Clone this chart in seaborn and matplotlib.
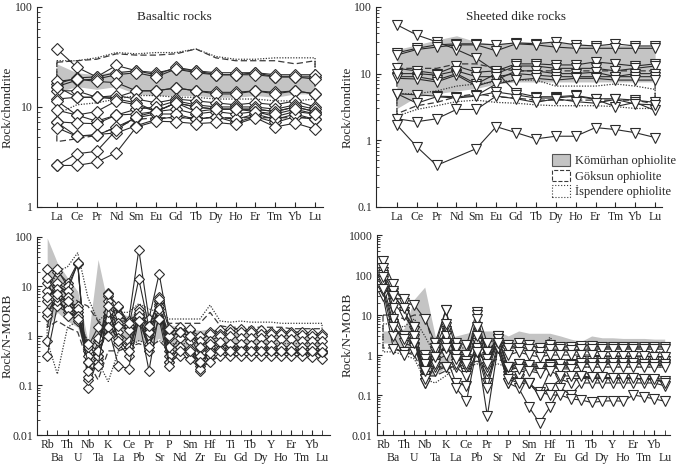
import numpy as np
import pandas as pd
import matplotlib
matplotlib.use("Agg")
import matplotlib.pyplot as plt
import seaborn as sns
from matplotlib.patches import Patch
from matplotlib.ticker import LogLocator, NullFormatter

nan = np.nan

# -----------------------------
# Element order
# -----------------------------
ree = ["La", "Ce", "Pr", "Nd", "Sm", "Eu", "Gd", "Tb", "Dy", "Ho", "Er", "Tm", "Yb", "Lu"]
trace = ["Rb", "Ba", "Th", "U", "Nb", "Ta", "K", "La", "Ce", "Pb", "Pr", "Sr", "P", "Nd",
         "Sm", "Zr", "Hf", "Eu", "Ti", "Gd", "Tb", "Dy", "Y", "Ho", "Er", "Tm", "Yb", "Lu"]

# -----------------------------
# Basaltic rocks, chondrite-normalised REE
# -----------------------------
basalt_ree = [
    [38, 25, 20, 22, 23, 22, 24, 23, 21, 21, 22, 20, 20, 20],
    [17, 19.5, 20, 26, 23, 21, 25, 23, 22, 22, 22, 21, 21, 21],
    [16, 18.5, 19, 21, 22, 20, 24, 22, 21, 21, 21, 20, 20, 19],
    [18, 19, 18, 17.5, 14.5, 14.5, 15.5, 14.5, 14, 14, 14.5, 14, 14.5, 13.5],
    [14.5, 14.5, 12.5, 12.5, 14.5, 14.5, 15.5, 14.5, 13.5, 13.5, 14.5, 13.5, 14.5, 13.5],
    [16, 12.5, 12.5, 13, 12, 11, 12, 11.5, 11, 10.5, 11, 10.5, 11.5, 10],
    [12, 12.5, 12.5, 12, 11, 9, 11, 10, 9.5, 9.5, 9.5, 9, 10, 9],
    [11.5, 8.3, 7.2, 8.3, 9.5, 10, 11.5, 10.5, 10, 10, 10, 9.5, 10.5, 9.5],
    [9.3, 8.3, 9, 11.5, 10.5, 9, 11, 10, 9.5, 9.5, 9.5, 9, 10, 9],
    [7.1, 6.9, 6.8, 8.3, 8.5, 9, 9.5, 8.5, 9, 8.5, 9, 8, 9, 8.5],
    [7, 5.1, 5.3, 5.5, 6.5, 7.5, 8, 7.5, 8, 7, 8, 7, 8, 7.5],
    [6.2, 5.1, 5.2, 6.3, 7.8, 8.5, 8.5, 7.5, 8, 7.5, 8.5, 7.5, 8.5, 7.5],
    [2.6, 3.4, 3.6, 5.9, 8, 9, 11, 9, 9.5, 9.5, 9, 8.5, 9.5, 8.5],
    [2.6, 2.6, 2.8, 3.5, 6.3, 7.2, 7.1, 6.8, 7, 6.7, 7.8, 6.3, 6.9, 6.0],
]
komurhan_basalt_ree_hi = [27, 22, 21, 23, 22, 22, 24, 23, 22, 21, 22, 21, 21, 21]
komurhan_basalt_ree_lo = [14, 16, 15, 16, 13.5, 13, 13, 13, 12.5, 12.5, 13, 12.5, 13.5, 13.5]
goksun_basalt_ree_hi = [28, 29, 30, 34, 33, 33, 34, 38, 31, 29, 29, 29, 27, 29]
goksun_basalt_ree_lo = [4.5, 4.8, 5.2, 6.3, 7.5, 7.8, 7.8, 7.8, 7.8, 7.8, 7.8, 7.8, 7.8, 7.8]
ispendere_basalt_ree_hi = [29, 29, 31, 35, 34, 35, 35, 38, 32, 30, 30, 31, 31, 31]
ispendere_basalt_ree_lo = [8.5, 10.5, 11, 12, 13, 13, 12.5, 12.5, 12, 12, 12, 11.5, 11.5, 12]

# -----------------------------
# Sheeted dike rocks, chondrite-normalised REE
# -----------------------------
dike_ree = [
    [54, 38, 30, 23, 17, 10.7, 5.2, 4.5, 4.5, 4.7, 4.2, 4.2, 4.0, 3.7],
    [20.5, 24, 27, 28, 28, 27, 29, 28, 30, 27, 26, 28, 26, 26],
    [19, 23, 25, 27, 27, 22, 28, 27, 25, 24, 24, 24, 24, 24],
    [12, 11, 10, 13, 10.5, 11, 14, 14, 13.5, 13.5, 15, 14, 13, 14],
    [9, 9, 8, 10, 7, 10, 13, 13, 12, 12, 12, 11, 12, 13],
    [8.5, 8.3, 7.5, 9.5, 6.5, 8, 11, 11, 10, 10, 10.5, 9, 10, 10],
    [10, 10, 9.5, 11, 9, 9, 10, 9.5, 9, 9, 9, 9, 9, 9],
    [5, 4.8, 4.6, 4.5, 4.7, 7, 8, 8.5, 8, 8.5, 8.5, 8, 8, 8],
    [5, 3.6, 4.5, 4.3, 4.6, 5.3, 4.8, 4.3, 4.3, 4.6, 4.1, 3.2, 3.7, 2.8],
    [2.1, 1.9, 2.1, 2.9, 2.9, 4.6, 4.2, 3.7, 4.2, 3.8, 3.6, 4.1, 3.5, 3.4],
    [1.7, 0.8, 0.42, nan, 0.75, 1.6, 1.3, 1.05, 1.15, 1.15, 1.55, 1.45, 1.3, 1.1],
]
komurhan_dike_ree_hi = [23, 27, 32, 37, 30, 28, 30, 30, 30, 28, 27, 27, 26, 26]
komurhan_dike_ree_lo = [3, 4.5, 5, 5.5, 6, 7, 7.5, 7.5, 7.5, 7.5, 7.5, 7.5, 7.5, 7.5]
goksun_dike_ree_hi = [12, 12, 12, 14, 14, 12, 11, 11, 11, 11, 11, 11, 11, 11]
goksun_dike_ree_lo = [2.5, 3.3, 3.7, 4.5, 5, 4.5, 4.3, 4, 4, 4, 4, 4, 4, 3.5]
ispendere_dike_ree_hi = [5, 5, 5.5, 6.5, 7, 7.5, 8, 8, 6.5, 6.5, 6.5, 7, 6.5, 5.8]
ispendere_dike_ree_lo = [2.3, 2.9, 3.3, 3.8, 4, 3.7, 3.6, 3.4, 3.3, 3.3, 3.3, 3.2, 3.0, 3.0]

# -----------------------------
# Basaltic rocks, N-MORB-normalised trace elements
# -----------------------------
basalt_trace = [
    [22, 20, 12, 30, 0.09, 0.35, 7.5, 2.5, 2.0, 55, 2.2, 18, 1.3, 1.5, 1.3, 1.0, 1.2, 1.3, 1.4, 1.4, 1.3, 1.3, 1.2, 1.2, 1.2, 1.2, 1.15, 1.1],
    [8, 22, 10, 28, 0.13, 0.4, 6.5, 1.8, 1.5, 14, 1.5, 5, 0.9, 1.2, 1.0, 0.8, 1.1, 1.1, 1.2, 1.2, 1.2, 1.1, 1.1, 1.1, 1.1, 1.05, 1.0, 1.0],
    [0.8, 10, 8, 30, 0.15, 0.3, 2.5, 3.8, 1.6, 3.5, 1.4, 6, 0.5, 0.9, 0.8, 0.25, 0.6, 0.7, 0.6, 0.6, 0.6, 0.6, 0.55, 0.55, 0.55, 0.5, 0.5, 0.5],
    [0.4, 4, 3, 2.5, 0.3, 0.5, 5, 1.2, 0.8, 2.5, 1.0, 4.5, 0.3, 0.6, 0.5, 0.2, 0.4, 0.55, 0.5, 0.5, 0.5, 0.5, 0.48, 0.47, 0.47, 0.45, 0.45, 0.45],
    [2.5, 8, 5, 4, 0.2, 0.8, 2.2, 0.7, 0.4, 2.8, 0.5, 5, 0.4, 0.5, 0.45, 0.3, 0.4, 0.5, 0.45, 0.5, 0.5, 0.5, 0.5, 0.5, 0.5, 0.5, 0.5, 0.5],
    [5, 12, 6, 3, 0.5, 0.9, 3, 0.9, 0.6, 2.5, 0.7, 4, 0.6, 0.6, 0.55, 0.35, 0.5, 0.55, 0.55, 0.55, 0.55, 0.55, 0.55, 0.55, 0.55, 0.5, 0.5, 0.5],
    [6, 9, 4, 3.5, 0.4, 0.4, 1.5, 0.25, 0.22, 2.2, 0.2, 3, 0.3, 0.4, 0.35, 0.22, 0.3, 0.4, 0.4, 0.4, 0.4, 0.4, 0.4, 0.4, 0.4, 0.4, 0.38, 0.35],
    [12, 5, 3.5, 2, 0.6, 1.5, 1.0, 1.6, 1.3, 3, 1.2, 3.5, 1.0, 1.2, 1.4, 0.6, 0.8, 1.0, 1.0, 0.9, 0.9, 0.9, 0.85, 0.85, 0.85, 0.8, 0.8, 0.8],
    [3, 6, 5, 2.5, 0.7, 0.5, 7, 4, 1.8, 2.5, 1.6, 5.5, 1.4, 1.2, 1.0, 0.4, 0.7, 0.75, 0.7, 0.7, 0.65, 0.65, 0.65, 0.6, 0.6, 0.6, 0.6, 0.6],
    [15, 7, 2.5, 2.2, 0.3, 0.25, 4, 0.8, 0.5, 2, 0.6, 2.2, 0.25, 0.5, 0.5, 0.3, 0.45, 0.5, 0.5, 0.5, 0.5, 0.5, 0.5, 0.5, 0.5, 0.5, 0.5, 0.48],
]
komurhan_basalt_trace_hi = [95, 30, 15, 8, 0.8, 35, 4, 3, 2.5, 3.5, 3, 2, 1.7, 1.5, 1.4, 1.3, 1.4, 1.3,
                            1.2, 1.2, 1.2, 1.2, 1.2, 1.1, 1.1, 1.1, 1.1, 1.1]
komurhan_basalt_trace_lo = [1.5, 3, 2, 1.5, 0.3, 1.0, 1.0, 0.8, 0.7, 0.8, 0.7, 0.9, 0.5, 0.5, 0.5, 0.5, 0.5, 0.6,
                            0.6, 0.6, 0.6, 0.6, 0.6, 0.6, 0.6, 0.6, 0.6, 0.6]
goksun_basalt_trace_hi = [1.5, 10, 8, 5, 4, 2, 1.5, 2, 2, 3, 2, 2.5, 1.8, 1.8, 1.8, 1.8, 3, 1.6,
                          1.5, 1.5, 1.5, 1.5, 1.5, 1.5, 1.4, 1.4, 1.4, 1.4]
goksun_basalt_trace_lo = [1.5, 2, 1.5, 1.2, 0.3, 0.13, 0.5, 0.5, 0.6, 0.7, 0.6, 0.8, 0.5, 0.5, 0.5, 0.5, 0.5, 0.55,
                          0.55, 0.55, 0.55, 0.55, 0.55, 0.55, 0.55, 0.55, 0.55, 0.55]
ispendere_basalt_trace_hi = [7, 20, 25, 48, 6, 2, 3, 3, 3, 4.5, 3.5, 3, 2.2, 2.2, 2.2, 2.2, 4.2, 2.0,
                             1.9, 2.0, 1.9, 1.9, 1.9, 1.8, 1.8, 1.8, 1.8, 1.8]
ispendere_basalt_trace_lo = [0.8, 0.17, 1.5, 2, 0.8, 0.3, 0.12, 0.5, 0.6, 0.8, 0.7, 0.8, 0.7, 0.7, 0.7, 0.7, 0.8, 0.7,
                             0.7, 0.7, 0.7, 0.7, 0.7, 0.7, 0.7, 0.7, 0.7, 0.7]

# -----------------------------
# Sheeted dike rocks, N-MORB-normalised trace elements
# -----------------------------
dike_trace = [
    [230, 60, 20, 18, 8, 2, 13, 2, 1.8, 12, 2, 2.5, 1.8, 2, 1.8, 1.5, 1.8, 1.6, 1.6, 1.7, 1.7, 1.6, 1.6, 1.6, 1.6, 1.6, 1.6, 1.6],
    [120, 35, 12, 5, 0.25, 1.5, 13, 1.3, 0.8, 10, 0.9, 3, 1.5, 1.5, 1.4, 1.2, 1.4, 1.4, 1.3, 1.4, 1.4, 1.4, 1.4, 1.4, 1.4, 1.4, 1.4, 1.4],
    [80, 20, 10, 4, 0.3, 1.2, 4, 0.9, 0.6, 8, 0.5, 2.5, 0.5, 0.6, 0.5, 0.45, 0.6, 0.5, 0.6, 0.7, 0.7, 0.7, 0.7, 0.7, 0.7, 0.7, 0.7, 0.7],
    [100, 15, 3, 2, 0.2, 0.5, 5, 0.7, 0.35, 2, 0.4, 2, 0.4, 0.5, 0.45, 0.4, 0.5, 0.5, 0.5, 0.6, 0.6, 0.6, 0.6, 0.6, 0.6, 0.6, 0.55, 0.55],
    [60, 6, 2, 1.6, 1.0, 0.7, 1.0, 0.2, 0.17, 1.5, 0.2, 1.8, 0.3, 0.25, 0.2, 0.1, 0.15, 0.25, 0.2, 0.28, 0.27, 0.26, 0.26, 0.27, 0.26, 0.25, 0.24, 0.22],
    [30, 1.4, 1.2, 1.5, 0.8, 0.4, 0.5, 0.15, 0.07, 1.5, 0.03, 1.5, 0.2, 0.15, 0.05, 0.02, 0.05, 0.15, 0.1, 0.2, 0.2, 0.2, 0.2, 0.2, 0.2, 0.2, 0.2, 0.17],
    [40, 3, 1.0, 1.2, 0.6, 0.5, 0.5, 0.5, 0.3, 1.2, 0.15, 1.5, 0.2, 0.3, 0.2, 0.12, 0.1, 0.1, 0.08, 0.075, 0.065, 0.07, 0.072, 0.07, 0.1, 0.09, 0.08, 0.07],
    [70, 40, 25, 5, 0.3, 2, 3, 1.5, 1.0, 5, 1.2, 2.5, 1.0, 1.2, 1.0, 0.9, 1.0, 1.0, 1.0, 1.0, 1.0, 0.95, 0.95, 0.95, 0.95, 0.95, 0.9, 0.9],
    [150, 8, 3, 2.5, 0.2, 0.6, 2, 0.6, 0.5, 1.5, 0.5, 3, 0.5, 0.6, 0.55, 0.5, 0.55, 0.6, 0.55, 0.65, 0.65, 0.65, 0.65, 0.65, 0.65, 0.6, 0.6, 0.6],
    [90, 30, 15, 3, 0.25, 1.5, 6, 1.0, 0.7, 3, 0.8, 2.5, 0.5, 0.45, 0.4, 0.35, 0.5, 0.45, 0.45, 0.5, 0.5, 0.5, 0.5, 0.5, 0.5, 0.5, 0.5, 0.5],
    [45, 5, 2.5, 2, 0.4, 0.9, 1.5, 0.8, 0.6, 1.2, 0.6, 2, 0.25, 0.2, 0.2, 0.1, 0.4, 0.3, 0.3, 0.3, 0.28, 0.28, 0.27, 0.27, 0.27, 0.25, 0.25, 0.2],
]
komurhan_dike_trace_hi = [4, 4, 4.5, 25, 50, 3, 2.5, 3, 3.5, 4, 4, 4, 3, 4, 3.5, 3.5, 3.5, 3,
                          2.5, 2.2, 3, 2.7, 2.7, 2.6, 2.6, 2.6, 2.5, 2.5]
komurhan_dike_trace_lo = [2, 2, 1.5, 1.5, 0.3, 0.3, 0.5, 1.2, 1.3, 1.5, 1.5, 1.8, 1.5, 1.5, 1.5, 1.5, 1.5, 1.5,
                          1.5, 1.5, 1.5, 1.5, 1.5, 1.5, 1.5, 1.5, 1.5, 1.5]
goksun_dike_trace_hi = [10, 10, 8, 10, 10, 1.2, 1.5, 2, 2, 2, 2, 2, 1.5, 1.8, 1.8, 1.5, 2.5, 1.5,
                        1.5, 1.5, 1.5, 1.5, 1.5, 1.5, 1.5, 1.5, 1.5, 1.5]
goksun_dike_trace_lo = [1.5, 1.5, 1.2, 1.0, 0.3, 0.3, 0.4, 0.6, 0.6, 0.7, 0.6, 0.8, 0.6, 0.6, 0.6, 0.6, 0.6, 0.6,
                        0.6, 0.6, 0.6, 0.6, 0.6, 0.6, 0.6, 0.6, 0.6, 0.6]
ispendere_dike_trace_hi = [6, 6, 5, 8, 3, 1.0, 1.2, 1.5, 1.5, 1.8, 1.6, 1.8, 1.3, 1.3, 1.3, 1.2, 2.8, 1.2,
                           1.2, 1.2, 1.2, 1.2, 1.2, 1.2, 1.2, 1.2, 1.2, 1.2]
ispendere_dike_trace_lo = [1.2, 1.2, 1.0, 0.8, 0.25, 0.2, 0.3, 0.5, 0.5, 0.6, 0.5, 0.6, 0.5, 0.5, 0.5, 0.5, 0.5, 0.5,
                           0.5, 0.5, 0.5, 0.5, 0.5, 0.5, 0.5, 0.5, 0.5, 0.5]

# -----------------------------
# Style
# -----------------------------
sns.set_style("ticks")
plt.rcParams["font.family"] = ["Liberation Serif", "DejaVu Serif"]
plt.rcParams["font.size"] = 8.5

LINE = "#2b2b2b"
FIELD_GRAY = "#c4c4c4"
FIELD_EDGE = "#3a3a3a"
DASH = (0, (5, 2.5))
DOT = (0, (1, 1.2))


def to_long(samples):
    rows = [(i, j, v) for i, s in enumerate(samples) for j, v in enumerate(s)]
    return pd.DataFrame(rows, columns=["sample", "pos", "value"]).dropna()


def draw_fields(ax, gray, dashed, dotted):
    x = np.arange(len(gray[0]))
    ax.fill_between(x, gray[1], gray[0], color=FIELD_GRAY, lw=0, zorder=1)
    for (hi, lo), ls in ((dashed, DASH), (dotted, DOT)):
        ax.fill(np.r_[x, x[::-1]], np.r_[hi, lo[::-1]], fill=False,
                ec=FIELD_EDGE, lw=0.9, ls=ls, zorder=2)


def draw_samples(ax, samples, marker, ms):
    sns.lineplot(data=to_long(samples), x="pos", y="value", units="sample",
                 estimator=None, sort=False, color=LINE, lw=0.8,
                 marker=marker, ms=ms, mfc="white", mec=LINE, mew=0.8,
                 legend=False, zorder=3, ax=ax)


def style_axes(ax, labels, two_rows, xlim, ylim, yticks, ylabel, label_x):
    ax.set_yscale("log")
    ax.set_ylim(ylim)
    ax.set_xlim(xlim)
    ax.set_yticks(yticks, labels=[f"{t:g}" for t in yticks])
    ax.yaxis.set_minor_locator(LogLocator(subs=np.arange(2, 10)))
    ax.yaxis.set_minor_formatter(NullFormatter())
    pos = np.arange(len(labels))
    if two_rows:
        ax.set_xticks(pos[::2], labels=labels[::2])
        ax.set_xticks(pos[1::2], labels=labels[1::2], minor=True)
        ax.tick_params(axis="x", which="minor", direction="in", length=3.5,
                       pad=12, labelsize=8.5)
    else:
        ax.set_xticks(pos, labels=labels)
    ax.tick_params(axis="both", which="major", direction="in", length=3.5,
                   pad=3, labelsize=8.5)
    ax.tick_params(axis="y", which="minor", direction="in", length=2)
    sns.despine(ax=ax)
    ax.set_xlabel("")
    ax.set_ylabel(ylabel, fontsize=9.5)
    ax.yaxis.set_label_coords(label_x, 0.5)


fig = plt.figure(figsize=(6.85, 4.65), dpi=100)
ax_tl = fig.add_axes([0.054, 0.555, 0.4175, 0.430])
ax_tr = fig.add_axes([0.549, 0.555, 0.4175, 0.430])
ax_bl = fig.add_axes([0.054, 0.0645, 0.428, 0.426])
ax_br = fig.add_axes([0.550, 0.0645, 0.428, 0.430])

# Basaltic REE
draw_fields(ax_tl, (komurhan_basalt_ree_hi, komurhan_basalt_ree_lo),
            (goksun_basalt_ree_hi, goksun_basalt_ree_lo),
            (ispendere_basalt_ree_hi, ispendere_basalt_ree_lo))
draw_samples(ax_tl, basalt_ree, "D", 6.0)
style_axes(ax_tl, ree, False, (-1.0, 13.4), (1, 100), [1, 10, 100],
           "Rock/chondrite", -0.082)
ax_tl.text(0.48, 0.95, "Basaltic rocks", transform=ax_tl.transAxes,
           ha="center", va="center", fontsize=9.5)

# Sheeted dike REE
draw_fields(ax_tr, (komurhan_dike_ree_hi, komurhan_dike_ree_lo),
            (goksun_dike_ree_hi, goksun_dike_ree_lo),
            (ispendere_dike_ree_hi, ispendere_dike_ree_lo))
draw_samples(ax_tr, dike_ree, "v", 7.0)
style_axes(ax_tr, ree, False, (-1.05, 13.35), (0.1, 100), [0.1, 1, 10, 100],
           "Rock/chondrite", -0.079)
ax_tr.text(0.49, 0.95, "Sheeted dike rocks", transform=ax_tr.transAxes,
           ha="center", va="center", fontsize=9.5)

# Basaltic trace elements
draw_fields(ax_bl, (komurhan_basalt_trace_hi, komurhan_basalt_trace_lo),
            (goksun_basalt_trace_hi, goksun_basalt_trace_lo),
            (ispendere_basalt_trace_hi, ispendere_basalt_trace_lo))
draw_samples(ax_bl, basalt_trace, "D", 5.5)
style_axes(ax_bl, trace, True, (-1.0, 27.8), (0.01, 100),
           [0.01, 0.1, 1, 10, 100], "Rock/N-MORB", -0.080)

# Sheeted dike trace elements
draw_fields(ax_br, (komurhan_dike_trace_hi, komurhan_dike_trace_lo),
            (goksun_dike_trace_hi, goksun_dike_trace_lo),
            (ispendere_dike_trace_hi, ispendere_dike_trace_lo))
draw_samples(ax_br, dike_trace, "v", 6.5)
style_axes(ax_br, trace, True, (-0.6, 27.5), (0.01, 1000),
           [0.01, 0.1, 1, 10, 100, 1000], "Rock/N-MORB", -0.080)

# Legend for the reference fields
handles = [
    Patch(facecolor=FIELD_GRAY, edgecolor="#555555", lw=0.8, label="Kömürhan ophiolite"),
    Patch(facecolor="none", edgecolor=FIELD_EDGE, lw=0.8, ls="--", label="Göksun ophiolite"),
    Patch(facecolor="none", edgecolor=FIELD_EDGE, lw=0.8, ls=":", label="İspendere ophiolite"),
]
fig.legend(handles=handles, loc="upper left", bbox_to_anchor=(0.806, 0.668),
           frameon=False, fontsize=9, handlelength=1.4, handleheight=1.0,
           handletextpad=0.4, labelspacing=0.2, borderpad=0, borderaxespad=0)

fig.savefig("out.png", dpi=100)
